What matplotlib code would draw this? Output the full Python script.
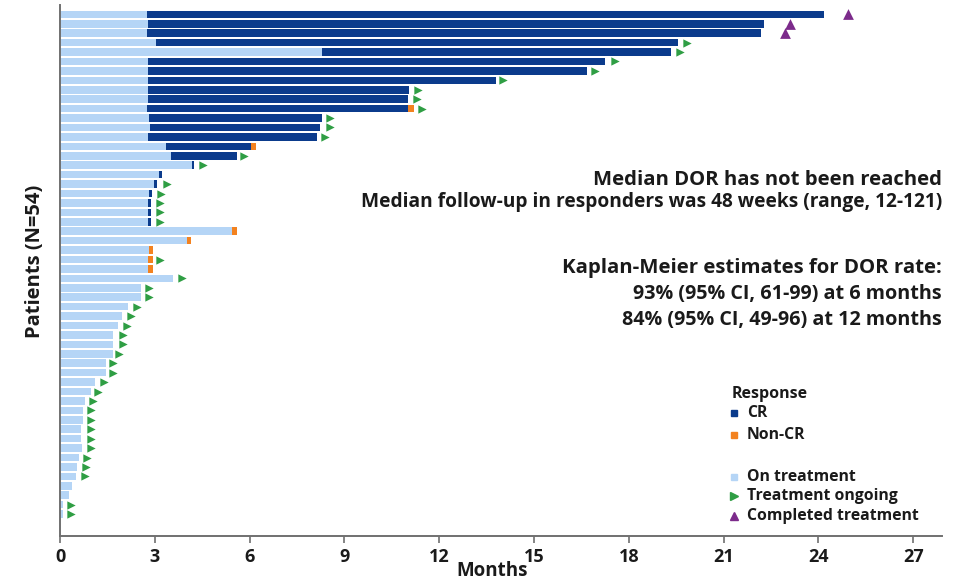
import numpy as np
import matplotlib
matplotlib.use("Agg")
import matplotlib.pyplot as plt
from matplotlib.lines import Line2D

# Per-patient timeline (months), listed top to bottom
on_treatment_end = [2.74, 2.78, 2.74, 3.04, 8.28, 2.78, 2.79, 2.79, 2.79, 2.79,
                    2.76, 2.82, 2.85, 2.79, 3.35, 3.50, 4.17, 3.14, 2.97, 2.83,
                    2.78, 2.78, 2.78, 5.43, 4.01, 2.82, 2.78, 2.78, 3.59, 2.56,
                    2.56, 2.16, 1.95, 1.83, 1.69, 1.69, 1.67, 1.45, 1.45, 1.11,
                    0.97, 0.79, 0.72, 0.72, 0.66, 0.66, 0.69, 0.60, 0.55, 0.51,
                    0.37, 0.29, 0.09, 0.09]
cr_end = [24.18, 22.29, 22.17, 19.55, 19.33, 17.25, 16.67, 13.80, 11.05, 11.02,
          11.02, 8.28, 8.23, 8.14, 6.04, 5.59, 4.25, 3.24, 3.06, 2.92,
          2.88, 2.88, 2.88] + [np.nan] * 31
noncr_end = [np.nan] * 10 + [11.20] + [np.nan] * 3 + [6.19] + [np.nan] * 8 + \
            [5.59, 4.15, 2.95, 2.93, 2.93] + [np.nan] * 26
ongoing_marker = [np.nan, np.nan, np.nan, 19.83, 19.62, 17.56, 16.93, 14.03, 11.34, 11.31,
                  11.45, 8.54, 8.54, 8.39, np.nan, 5.82, 4.53, np.nan, 3.38, 3.20,
                  3.16, 3.16, 3.16, np.nan, np.nan, np.nan, 3.16, np.nan, 3.85, 2.83,
                  2.83, 2.45, 2.25, 2.13, 1.98, 1.98, 1.88, 1.67, 1.67, 1.38,
                  1.21, 1.03, 0.98, 0.98, 0.98, 0.98, 0.98, 0.86, 0.81, 0.79,
                  np.nan, np.nan, 0.34, 0.34]
completed_marker = [24.94, 23.10, 22.94] + [np.nan] * 51

x_ticks = [0, 3, 6, 9, 12, 15, 18, 21, 24, 27]

c_light = "#b5d5f6"
c_cr = "#0b3b8c"
c_noncr = "#f3821f"
c_green = "#2f9e44"
c_purple = "#7c2b8b"
c_axis = "#707070"
c_text = "#1a1a1a"

text_font = ["Open Sans", "DejaVu Sans"]

fig = plt.figure(figsize=(9.61, 5.82), dpi=100)
ax = fig.add_axes([60 / 961, 46 / 582, 881.7 / 961, 531 / 582])

n = len(on_treatment_end)
rows = np.arange(n)
bar_h = 0.8

tr = np.array(on_treatment_end)
cr = np.array(cr_end)
nc = np.array(noncr_end)

ax.barh(rows, tr, height=bar_h, color=c_light, edgecolor="none")
has_cr = ~np.isnan(cr)
ax.barh(rows[has_cr], cr[has_cr] - tr[has_cr], left=tr[has_cr], height=bar_h,
        color=c_cr, edgecolor="none")
has_nc = ~np.isnan(nc)
nc_start = np.where(has_cr, cr, tr)
ax.barh(rows[has_nc], nc[has_nc] - nc_start[has_nc], left=nc_start[has_nc],
        height=bar_h, color=c_noncr, edgecolor="none")

og = np.array(ongoing_marker)
ax.scatter(og[~np.isnan(og)], rows[~np.isnan(og)], marker=">", s=36,
           color=c_green, linewidths=0, zorder=3, clip_on=False)
cm = np.array(completed_marker)
ax.scatter(cm[~np.isnan(cm)], rows[~np.isnan(cm)], marker="^", s=60,
           color=c_purple, linewidths=0, zorder=3, clip_on=False)

ax.set_xlim(0, 27.9)
ax.set_ylim(55.32, -0.99)
ax.set_yticks([])
ax.set_xticks(x_ticks)
ax.set_xticklabels([str(t) for t in x_ticks], family=text_font,
                   fontweight="bold", fontsize=13, color=c_text)
ax.tick_params(axis="x", direction="out", length=5, width=1.2, color=c_axis,
               pad=4)
for s in ("top", "right"):
    ax.spines[s].set_visible(False)
for s in ("left", "bottom"):
    ax.spines[s].set_color(c_axis)
    ax.spines[s].set_linewidth(1.4)

fig.text(492 / 961, 1 - 571 / 582, "Months", ha="center", va="center",
         family=text_font, fontweight="bold", fontsize=13.5, color=c_text)
fig.text(35 / 961, 1 - 261 / 582, "Patients (N=54)", ha="center", va="center",
         rotation=90, family=text_font, fontweight="bold", fontsize=14.5,
         color=c_text)

# Summary statistics
right = 942 / 961
summary = [
    (180, "Median DOR has not been reached", 14.6),
    (202, "Median follow-up in responders was 48 weeks (range, 12-121)", 13.8),
    (268, "Kaplan-Meier estimates for DOR rate:", 14.7),
    (294, "93% (95% CI, 61-99) at 6 months", 14.2),
    (320, "84% (95% CI, 49-96) at 12 months", 14.2),
]
for y, label, size in summary:
    fig.text(right, 1 - y / 582, label, ha="right", va="center",
             family=text_font, fontweight="bold", fontsize=size, color=c_text)

# Legend
lx_mark = 734 / 961
lx_text = 747 / 961
fig.text(732 / 961, 1 - 394 / 582, "Response", ha="left", va="center",
         family=text_font, fontweight="bold", fontsize=11.5, color=c_text)
legend_rows = [
    (413, "s", c_cr, 5, "CR"),
    (435, "s", c_noncr, 5, "Non-CR"),
    (477, "s", c_light, 5, "On treatment"),
    (496, ">", c_green, 6, "Treatment ongoing"),
    (516, "^", c_purple, 6, "Completed treatment"),
]
for y, mk, col, ms, label in legend_rows:
    fig.add_artist(Line2D([lx_mark], [1 - y / 582], marker=mk, color=col,
                          markersize=ms, linestyle="none",
                          transform=fig.transFigure))
    fig.text(lx_text, 1 - y / 582, label, ha="left", va="center",
             family=text_font, fontweight="bold", fontsize=11.3, color=c_text)

fig.savefig("out.png", dpi=100)
